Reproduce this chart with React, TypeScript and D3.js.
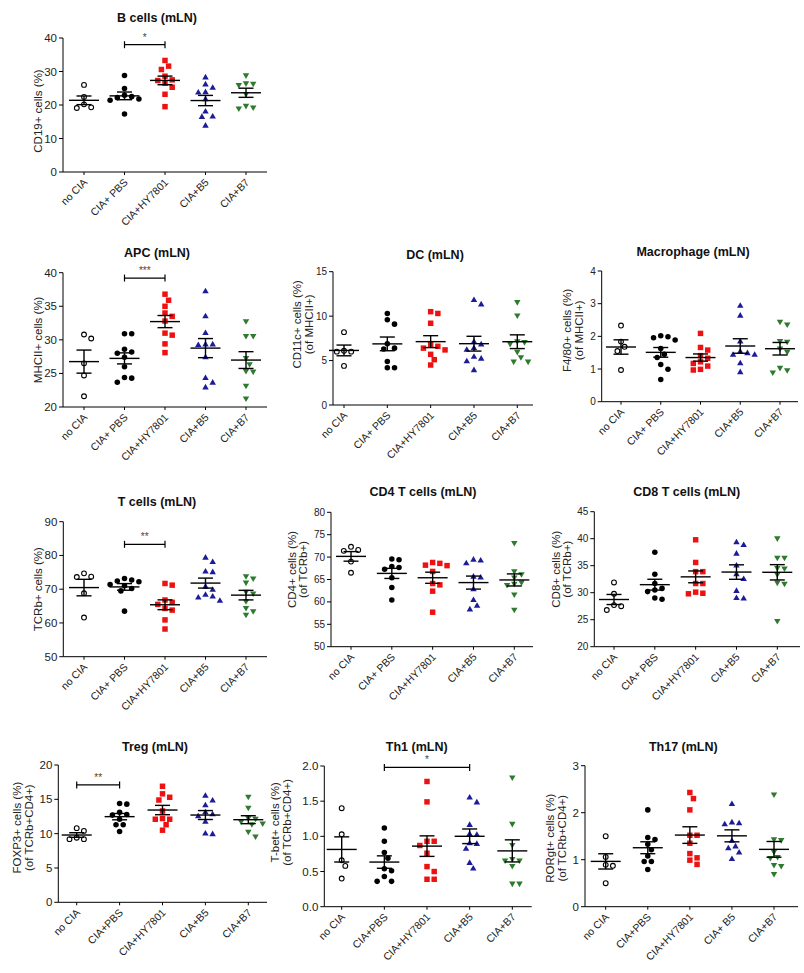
import React from 'react';
import * as d3 from 'd3';

// ---------- DATA ----------
const labelsA = ['no CIA', 'CIA+ PBS', 'CIA+HY7801', 'CIA+B5', 'CIA+B7'];
const labelsB = ['no CIA', 'CIA+PBS', 'CIA+HY7801', 'CIA+B5', 'CIA+B7'];
const labelsC = ['no CIA', 'CIA+PBS', 'CIA+HY7801', 'CIA+ B5', 'CIA+B7'];

const bCells = [
  [26.0, 22.4, 20.2, 19.3, 19.1],
  [28.8, 24.9, 22.9, 22.5, 22.2, 21.8, 21.4, 17.3],
  [33.3, 31.6, 30.6, 28.6, 27.5, 27.3, 26.5, 25.3, 23.2, 19.5],
  [28.2, 26.1, 25.1, 23.8, 23.7, 21.7, 18.0, 16.5, 16.4, 13.8],
  [28.9, 26.5, 26.4, 26.0, 23.3, 19.8, 19.3, 19.0],
];
const apc = [
  [30.8, 30.2, 26.5, 24.7, 21.6],
  [30.9, 30.9, 28.6, 28.2, 28.0, 27.4, 26.0, 24.4, 24.3, 23.7],
  [36.8, 35.9, 35.0, 34.0, 33.5, 32.8, 31.0, 30.7, 29.4, 28.1],
  [37.2, 33.5, 31.0, 29.3, 29.3, 29.2, 27.4, 24.3, 23.6, 22.9],
  [32.8, 30.6, 30.6, 27.3, 26.4, 25.4, 25.3, 23.2, 21.3],
];
const dc = [
  [8.2, 6.1, 6.0, 6.0, 4.4],
  [10.3, 9.6, 9.1, 6.9, 6.4, 6.3, 4.9, 4.2, 4.2],
  [10.5, 10.3, 9.2, 6.8, 6.6, 6.4, 6.2, 5.7, 5.1, 4.5],
  [11.8, 11.3, 7.1, 6.8, 6.4, 6.2, 5.4, 5.2, 4.9, 3.9],
  [11.6, 10.1, 7.2, 7.1, 6.9, 6.0, 5.4, 4.9, 4.9],
];
const macro = [
  [2.33, 1.84, 1.68, 1.55, 0.97],
  [2.02, 1.99, 1.96, 1.89, 1.63, 1.45, 1.35, 1.14, 0.99, 0.68],
  [2.09, 1.66, 1.58, 1.41, 1.33, 1.22, 1.17, 1.09, 0.99, 0.97],
  [2.93, 2.63, 1.84, 1.53, 1.48, 1.43, 1.43, 1.17, 0.9],
  [2.45, 2.37, 1.86, 1.84, 1.63, 1.53, 1.04, 0.97, 0.9],
];
const tCells = [
  [74.7, 73.7, 73.6, 68.8, 61.6],
  [73.2, 72.7, 72.4, 72.2, 71.4, 71.0, 70.2, 69.5, 63.5],
  [71.7, 71.2, 66.8, 66.1, 65.5, 64.3, 63.8, 60.9, 58.2],
  [79.3, 78.0, 75.2, 75.0, 70.7, 69.8, 68.3, 67.8, 67.5, 66.5],
  [73.9, 73.2, 72.0, 69.3, 68.8, 66.5, 64.5, 63.5, 62.5],
];
const cd4 = [
  [72.3, 71.6, 71.4, 69.0, 66.5],
  [69.6, 69.4, 67.9, 67.7, 67.3, 65.4, 63.2, 60.4],
  [68.8, 68.6, 68.2, 68.1, 66.8, 64.1, 63.8, 62.4, 57.7],
  [69.4, 69.2, 68.6, 65.6, 65.4, 62.8, 60.4, 59.1, 58.3],
  [73.2, 66.9, 66.2, 65.5, 64.4, 64.1, 63.8, 61.7, 58.3],
];
const cd8 = [
  [31.9, 29.8, 27.7, 27.5, 26.8],
  [37.5, 33.4, 31.7, 30.8, 30.5, 30.2, 29.0, 28.8],
  [39.8, 35.6, 33.9, 33.9, 31.7, 31.7, 30.1, 29.9, 29.8],
  [39.3, 38.8, 37.2, 35.0, 33.4, 32.5, 30.3, 29.0, 28.9],
  [40.1, 36.5, 36.5, 34.6, 34.5, 33.4, 31.9, 31.7, 24.8],
];
const treg = [
  [10.8, 10.4, 9.4, 9.2, 9.2],
  [14.4, 14.3, 13.1, 12.8, 12.7, 12.1, 11.3, 11.3, 10.3],
  [16.9, 15.8, 15.3, 14.9, 13.3, 12.2, 12.1, 12.1, 11.3, 10.5],
  [15.5, 14.8, 14.1, 13.1, 12.8, 12.5, 11.7, 10.0, 9.9],
  [15.4, 13.8, 12.3, 12.2, 11.8, 11.5, 11.4, 10.3, 9.6],
];
const th1 = [
  [1.4, 1.03, 0.66, 0.58, 0.4],
  [1.12, 0.93, 0.77, 0.69, 0.54, 0.51, 0.43, 0.36, 0.36],
  [1.78, 1.49, 0.93, 0.93, 0.87, 0.76, 0.57, 0.5, 0.39, 0.39],
  [1.55, 1.48, 1.16, 1.03, 1.02, 0.9, 0.89, 0.82, 0.62, 0.54],
  [1.84, 1.18, 0.88, 0.68, 0.66, 0.66, 0.58, 0.33, 0.33],
];
const th17 = [
  [1.5, 1.06, 0.89, 0.87, 0.5],
  [2.06, 1.47, 1.43, 1.33, 1.21, 1.08, 0.96, 0.96, 0.79],
  [2.43, 2.3, 2.06, 1.52, 1.52, 1.35, 1.13, 1.04, 0.99, 0.9],
  [2.18, 1.79, 1.77, 1.75, 1.4, 1.28, 1.24, 1.15, 1.01],
  [2.39, 1.44, 1.42, 1.17, 1.06, 1.04, 0.89, 0.87, 0.7],
];

// ---------- STYLE / LAYOUT ----------
const FONT = 'Arial, "Liberation Sans", Helvetica, sans-serif';
const groupStyles = [
  { type: d3.symbolCircle, size: 18, fill: '#ffffff', stroke: '#000000', sw: 1.1, rot: 0 },
  { type: d3.symbolCircle, size: 24, fill: '#000000', stroke: 'none', sw: 0, rot: 0 },
  { type: d3.symbolSquare, size: 30, fill: '#ee1111', stroke: 'none', sw: 0, rot: 0 },
  { type: d3.symbolTriangle, size: 18, fill: '#1c1c9a', stroke: 'none', sw: 0, rot: 0 },
  { type: d3.symbolTriangle, size: 18, fill: '#2e7a2e', stroke: 'none', sw: 0, rot: 180 },
];

type Panel = {
  title: string; yLabel: string[]; data: number[][]; labels: string[];
  domain: [number, number]; ticks: number[]; fmt?: string;
  left: number; right: number; top: number; bottom: number; c0: number; c1: number;
  tx: number; ty: number; lx: number[]; ldy: number; tickFont: number;
  sig?: { a: number; b: number; v: number; text: string };
};

const panels: Panel[] = [
  { title: 'B cells (mLN)', yLabel: ['CD19+ cells (%)'], data: bCells, labels: labelsA,
    domain: [0, 40], ticks: [0, 10, 20, 30, 40], left: 63, right: 267, top: 38, bottom: 172, c0: 84, c1: 246,
    tx: 157, ty: 18, lx: [-25], ldy: 6, tickFont: 11.5, sig: { a: 1, b: 2, v: 38, text: '*' } },
  { title: 'APC (mLN)', yLabel: ['MHCII+ cells (%)'], data: apc, labels: labelsA,
    domain: [20, 40], ticks: [20, 25, 30, 35, 40], left: 63, right: 267, top: 272.7, bottom: 407, c0: 84, c1: 246,
    tx: 157, ty: 253, lx: [-25], ldy: 0, tickFont: 11.5, sig: { a: 1, b: 2, v: 39.2, text: '***' } },
  { title: 'DC (mLN)', yLabel: ['CD11c+ cells (%)', '(of MHCII+)'], data: dc, labels: labelsA,
    domain: [0, 15], ticks: [0, 5, 10, 15], left: 333, right: 533, top: 271.7, bottom: 405, c0: 344, c1: 517.3,
    tx: 435, ty: 255, lx: [-36, -24], ldy: -14, tickFont: 10 },
  { title: 'Macrophage (mLN)', yLabel: ['F4/80+ cells (%)', '(of MHCII+)'], data: macro, labels: labelsA,
    domain: [0, 4], ticks: [0, 1, 2, 3, 4], left: 601.7, right: 798, top: 271, bottom: 401.7, c0: 621, c1: 780,
    tx: 693, ty: 252, lx: [-35, -23], ldy: -6, tickFont: 10 },
  { title: 'T cells (mLN)', yLabel: ['TCRb+ cells (%)'], data: tCells, labels: labelsA,
    domain: [50, 90], ticks: [50, 60, 70, 80, 90], left: 63.3, right: 267, top: 521.7, bottom: 656.7, c0: 84, c1: 246,
    tx: 157, ty: 501.7, lx: [-25], ldy: 0, tickFont: 11.5, sig: { a: 1, b: 2, v: 83.3, text: '**' } },
  { title: 'CD4 T cells (mLN)', yLabel: ['CD4+ cells (%)', '(of TCRb+)'], data: cd4, labels: labelsA,
    domain: [50, 80], ticks: [50, 55, 60, 65, 70, 75, 80], left: 331, right: 533, top: 512.3, bottom: 646.7, c0: 351, c1: 514.3,
    tx: 423, ty: 491.7, lx: [-39, -28], ldy: -10, tickFont: 10 },
  { title: 'CD8 T cells (mLN)', yLabel: ['CD8+ cells (%)', '(of TCRb+)'], data: cd8, labels: labelsA,
    domain: [20, 45], ticks: [20, 25, 30, 35, 40, 45], left: 594.3, right: 800, top: 511.7, bottom: 646.7, c0: 614, c1: 777.3,
    tx: 686.7, ty: 491.7, lx: [-38, -27], ldy: -10, tickFont: 10 },
  { title: 'Treg (mLN)', yLabel: ['FOXP3+ cells (%)', '(of TCRb+CD4+)'], data: treg, labels: labelsB,
    domain: [0, 20], ticks: [0, 5, 10, 15, 20], left: 58.3, right: 267, top: 765, bottom: 902.3, c0: 76.7, c1: 248.3,
    tx: 155, ty: 746.7, lx: [-41, -29], ldy: -6, tickFont: 11.5, sig: { a: 0, b: 1, v: 17.1, text: '**' } },
  { title: 'Th1 (mLN)', yLabel: ['T-bet+ cells (%)', '(of TCRb+CD4+)'], data: th1, labels: labelsB,
    domain: [0, 2], ticks: [0, 0.5, 1, 1.5, 2], fmt: '.1f', left: 324.3, right: 531.7, top: 766, bottom: 906.7, c0: 341.7, c1: 512.3,
    tx: 416.7, ty: 746.7, lx: [-49, -37], ldy: -14, tickFont: 11.5, sig: { a: 1, b: 3, v: 1.98, text: '*' } },
  { title: 'Th17 (mLN)', yLabel: ['RORgt+ cells (%)', '(of TCRb+CD4+)'], data: th17, labels: labelsC,
    domain: [0, 3], ticks: [0, 1, 2, 3], left: 585, right: 798, top: 765.7, bottom: 906.7, c0: 605.7, c1: 774,
    tx: 683.3, ty: 746.7, lx: [-35, -23], ldy: 2, tickFont: 11.5 },
];

function swarm(vals: number[], y: (v: number) => number, d = 6.2, step = 3.6) {
  const placed: { x: number; y: number }[] = [];
  const order = vals.map((_, i) => i).sort((a, b) => vals[b] - vals[a]);
  const out: { x: number; y: number }[] = new Array(vals.length);
  for (const i of order) {
    const py = y(vals[i]);
    let k = 0;
    let off = 0;
    for (;;) {
      off = k === 0 ? 0 : (k % 2 === 1 ? 1 : -1) * Math.ceil(k / 2) * step;
      const o = off;
      if (placed.every((p) => Math.hypot(p.x - o, p.y - py) >= d)) break;
      k++;
    }
    placed.push({ x: off, y: py });
    out[i] = { x: off, y: py };
  }
  return out;
}

function PanelView({ p }: { p: Panel }) {
  const y = d3.scaleLinear().domain(p.domain).range([p.bottom, p.top]);
  const x = d3.scalePoint<number>().domain([0, 1, 2, 3, 4]).range([p.c0, p.c1]);
  const fmt = p.fmt ? d3.format(p.fmt) : (v: number) => String(v);
  const midY = (p.top + p.bottom) / 2 + p.ldy;
  return (
    <g>
      <text x={p.tx} y={p.ty} dy="0.35em" textAnchor="middle" fontFamily={FONT} fontWeight="bold" fontSize={12.5} fill="#111">
        {p.title}
      </text>
      {/* axes */}
      <line x1={p.left} x2={p.left} y1={p.top} y2={p.bottom} stroke="#000" strokeWidth={1} />
      <line x1={p.left} x2={p.right} y1={p.bottom} y2={p.bottom} stroke="#000" strokeWidth={1} />
      {p.ticks.map((t) => (
        <g key={t}>
          <line x1={p.left - 4} x2={p.left} y1={y(t)} y2={y(t)} stroke="#000" strokeWidth={1} />
          <text x={p.left - 6} y={y(t)} dy="0.35em" textAnchor="end" fontFamily={FONT} fontSize={p.tickFont} fill="#222">
            {fmt(t)}
          </text>
        </g>
      ))}
      {[0, 1, 2, 3, 4].map((i) => (
        <line key={i} x1={x(i) as number} x2={x(i) as number} y1={p.bottom} y2={p.bottom + 3} stroke="#000" strokeWidth={1} />
      ))}
      {p.yLabel.map((l, i) => (
        <text key={i} transform={`translate(${p.left + p.lx[i]},${midY}) rotate(-90)`} dy="0.35em" textAnchor="middle"
          fontFamily={FONT} fontSize={11.5} fill="#222">
          {l}
        </text>
      ))}
      {p.labels.map((l, i) => (
        <text key={i} transform={`translate(${(x(i) as number) + 4},${p.bottom + 11}) rotate(-45)`} textAnchor="end"
          fontFamily={FONT} fontSize={10.5} fill="#222">
          {l}
        </text>
      ))}
      {/* points */}
      {p.data.map((vals, gi) => {
        const st = groupStyles[gi];
        const cx = x(gi) as number;
        const pos = swarm(vals, y);
        const path = d3.symbol().type(st.type).size(st.size)() as string;
        const mean = d3.mean(vals) as number;
        const sem = (d3.deviation(vals) as number) / Math.sqrt(vals.length);
        return (
          <g key={gi}>
            {pos.map((pt, k) => (
              <path key={k} d={path} transform={`translate(${cx + pt.x},${pt.y}) rotate(${st.rot})`}
                fill={st.fill} stroke={st.stroke} strokeWidth={st.sw} />
            ))}
            <line x1={cx - 15} x2={cx + 15} y1={y(mean)} y2={y(mean)} stroke="#000" strokeWidth={1.4} />
            <line x1={cx} x2={cx} y1={y(mean - sem)} y2={y(mean + sem)} stroke="#000" strokeWidth={1.4} />
            <line x1={cx - 7.5} x2={cx + 7.5} y1={y(mean + sem)} y2={y(mean + sem)} stroke="#000" strokeWidth={1.4} />
            <line x1={cx - 7.5} x2={cx + 7.5} y1={y(mean - sem)} y2={y(mean - sem)} stroke="#000" strokeWidth={1.4} />
          </g>
        );
      })}
      {p.sig && (
        <g>
          <line x1={x(p.sig.a) as number} x2={x(p.sig.b) as number} y1={y(p.sig.v)} y2={y(p.sig.v)} stroke="#000" strokeWidth={1.2} />
          <line x1={x(p.sig.a) as number} x2={x(p.sig.a) as number} y1={y(p.sig.v) - 3.5} y2={y(p.sig.v) + 3.5} stroke="#000" strokeWidth={1.2} />
          <line x1={x(p.sig.b) as number} x2={x(p.sig.b) as number} y1={y(p.sig.v) - 3.5} y2={y(p.sig.v) + 3.5} stroke="#000" strokeWidth={1.2} />
          <text x={((x(p.sig.a) as number) + (x(p.sig.b) as number)) / 2} y={y(p.sig.v) - 4} textAnchor="middle"
            fontFamily={FONT} fontSize={10} fill="#444">
            {p.sig.text}
          </text>
        </g>
      )}
    </g>
  );
}

export default function App() {
  return (
    <svg width={804} height={973} style={{ position: 'absolute', left: 0, top: 0, background: '#fff' }}>
      <rect width={804} height={973} fill="#fff" />
      {panels.map((p, i) => (
        <PanelView key={i} p={p} />
      ))}
    </svg>
  );
}
